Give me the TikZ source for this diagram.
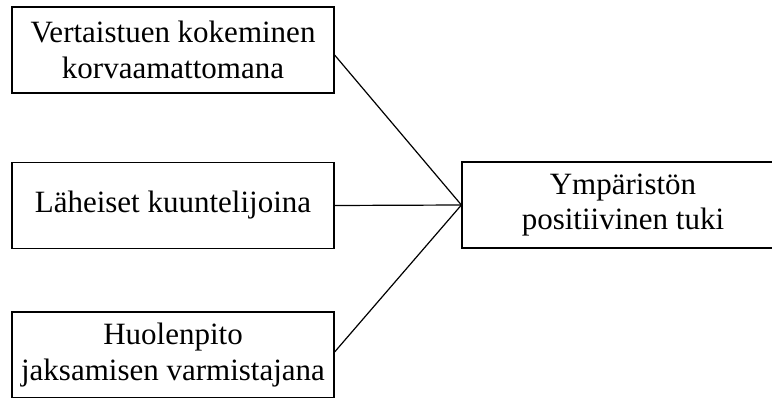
\documentclass[tikz,border=0pt]{standalone}
\usepackage{fontspec}
\setmainfont{Liberation Serif}
\begin{document}
\begin{tikzpicture}[x=1pt,y=1pt,
  boxstyle/.style={draw, line width=1.2pt, minimum width=322pt, minimum height=86pt,
    inner sep=0pt, align=center, font=\fontsize{31}{35.5}\selectfont},
  linkstyle/.style={line width=1.2pt}]
\useasboundingbox (0,0) rectangle (772,397);
\clip (0,0) rectangle (772,397);
\node[boxstyle] (top) at (173,347) {Vertaistuen kokeminen\\korvaamattomana};
\node[boxstyle] (mid) at (173,191.5) {Läheiset kuuntelijoina};
\node[boxstyle] (bot) at (173,42) {Huolenpito\\jaksamisen varmistajana};
\node[boxstyle] (res) at (623,192) {Ympäristön\\positiivinen tuki};
\draw[linkstyle] ([yshift=-5pt]top.east) -- (res.west);
\draw[linkstyle] (mid.east) -- (res.west);
\draw[linkstyle] ([yshift=3pt]bot.east) -- (res.west);
\end{tikzpicture}
\end{document}
